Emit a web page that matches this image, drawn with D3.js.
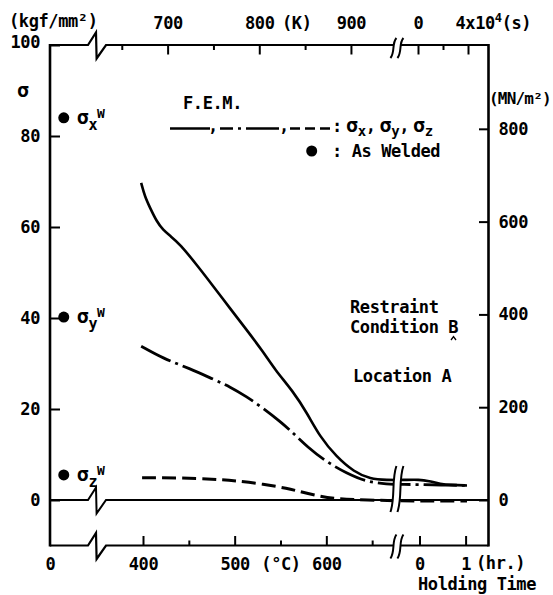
<!DOCTYPE html>
<html>
<head>
<meta charset="utf-8">
<script src="https://cdn.jsdelivr.net/npm/d3@7"></script>
<style>
  body { margin: 0; background: #fff; }
  text { font-family: "DejaVu Sans Mono", monospace; font-weight: bold; font-size: 17px; letter-spacing: -0.4px; fill: #000; }
</style>
</head>
<body>
<svg id="chart" width="553" height="595"></svg>
<script>
// ---- Stress during post-weld heat treatment (kgf/mm^2) ----
// heating stage: temperature (°C) ; holding stage: time (hr)
const sxHeatC = [398, 402, 408, 415, 422, 430, 440, 459, 477, 495, 513, 531, 544, 564, 579, 593, 611, 630, 648, 666, 684];
const sxHeat  = [69.7, 66.7, 64.1, 61.2, 59.3, 58.0, 56.3, 51.6, 46.9, 42.1, 37.4, 32.6, 28.6, 23.8, 19.1, 13.9, 9.5, 6.2, 4.6, 4.4, 4.4];
const sxHoldH = [0, 0.2, 0.45, 0.7, 1.03];
const sxHold  = [4.5, 4.2, 3.5, 3.3, 3.2];

const syHeatC = [398, 422, 451, 477, 495, 513, 531, 550, 564, 579, 600, 622, 644, 666, 684];
const syHeat  = [33.8, 31.1, 28.9, 26.5, 24.9, 22.7, 20.2, 17.2, 14.7, 11.7, 8.4, 5.9, 4.0, 3.5, 3.4];
const syHoldH = [0, 0.45, 1.03];
const syHold  = [3.4, 3.3, 3.2];

const szHeatC = [399, 440, 477, 502, 531, 559, 568, 590, 611, 644, 684];
const szHeat  = [4.9, 4.9, 4.6, 4.2, 3.5, 2.5, 2.0, 0.9, 0.2, 0.0, -0.2];
const szHoldH = [0, 0.5, 1.03];
const szHold  = [-0.2, -0.2, -0.2];

// as-welded residual stresses (kgf/mm^2), at room temperature
const weldComponents = ["x", "y", "z"];
const weldValues = [84.0, 40.2, 5.5];
const roomTempC = 15;

// axis ticks
const stressTicks = [0, 20, 40, 60, 80, 100];
const mnTicks = [0, 200, 400, 600, 800];
const celsiusTicks = [400, 450, 500, 550, 600, 650];
const celsiusLabels = {400: "400", 500: "500", 550: "(°C)", 600: "600"};
const kelvinTicks = [650, 700, 750, 800, 850, 900];
const kelvinLabels = {700: "700", 800: "800", 900: "900"};
const hourTicks = [0, 1];
const secondTicks = [0, 2e4, 4e4];

const KGF_TO_MN = 9.80665;

// ---- layout ----
const svg = d3.select("#chart");
const X0 = 50, X1 = 488.5, Y0 = 45, Y1 = 545.5;

const y = d3.scaleLinear([-10, 100], [Y1, Y0]);
const yMN = d3.scaleLinear([-10 * KGF_TO_MN, 100 * KGF_TO_MN], [Y1, Y0]);
const preScale = d3.scaleLinear([0, 40], [X0, 86.7]);
const tempScale = d3.scaleLinear([400, 700], [143, 418]);
const kScale = d3.scaleLinear([673.15, 973.15], [143, 418]);
const hourScale = d3.scaleLinear([0, 1], [419.5, 465.6]);
const secScale = d3.scaleLinear([0, 4e4], [418, 468]);

function series(heatC, heatV, holdH, holdV) {
  const pts = heatC.map((t, i) => [tempScale(t), y(heatV[i])]);
  holdH.forEach((h, i) => pts.push([hourScale(h), y(holdV[i])]));
  return pts;
}
const line = d3.line().curve(d3.curveBasis);

const curves = svg.append("g").attr("fill", "none").attr("stroke", "#000").attr("stroke-width", 2.6);
curves.append("path").attr("d", line(series(sxHeatC, sxHeat, sxHoldH, sxHold)));
curves.append("path").attr("d", line(series(syHeatC, syHeat, syHoldH, syHold)))
  .attr("stroke-dasharray", "33,5,3,5").attr("stroke-width", 2.8);
curves.append("path").attr("d", line(series(szHeatC, szHeat, szHoldH, szHold)))
  .attr("stroke-dasharray", "14,6").attr("stroke-width", 3);

// frame with zigzag breaks on the horizontal rules
function brokenRule(yy) {
  return `M${X0},${yy}H88L96,${yy - 12.5}L96.6,${yy + 13.5}L106,${yy}H${X1}`;
}
const frame = svg.append("g").attr("fill", "none").attr("stroke", "#000").attr("stroke-width", 2.2);
frame.append("path").attr("d", brokenRule(Y0));
frame.append("path").attr("d", brokenRule(Y1));
frame.append("path").attr("d", brokenRule(y(0))).attr("stroke-width", 2);
frame.append("line").attr("x1", X0).attr("x2", X0).attr("y1", Y0 - 1).attr("y2", Y1 + 1).attr("stroke-width", 2.6);
frame.append("line").attr("x1", X1).attr("x2", X1).attr("y1", Y0 - 1).attr("y2", Y1 + 1).attr("stroke-width", 2.6);

// axes
function styleAxis(g) {
  g.select(".domain").remove();
  g.selectAll(".tick line").attr("stroke-width", 2);
  g.attr("font-size", null).attr("font-family", null);
}
const leftAxis = svg.append("g").attr("transform", `translate(${X0},0)`)
  .call(d3.axisLeft(y).tickValues(stressTicks).tickSize(-10).tickPadding(10).tickFormat(d3.format("d")));
styleAxis(leftAxis);
leftAxis.selectAll(".tick").filter(d => d === 100).select("text").attr("y", -3);

const rightAxis = svg.append("g").attr("transform", `translate(${X1},0)`)
  .call(d3.axisRight(yMN).tickValues(mnTicks).tickSize(-9.5).tickPadding(10).tickFormat(d3.format("d")));
styleAxis(rightAxis);

const bottomC = svg.append("g").attr("transform", `translate(0,${Y1})`)
  .call(d3.axisBottom(tempScale).tickValues(celsiusTicks).tickSize(-9.5).tickPadding(12.4)
    .tickFormat(d => celsiusLabels[d] || ""));
styleAxis(bottomC);
bottomC.selectAll(".tick").filter(d => d % 100 !== 0).select("line").attr("y2", -5);

const bottomPre = svg.append("g").attr("transform", `translate(0,${Y1})`)
  .call(d3.axisBottom(preScale).tickValues([0]).tickSize(0).tickPadding(12.4));
styleAxis(bottomPre);

const bottomH = svg.append("g").attr("transform", `translate(0,${Y1})`)
  .call(d3.axisBottom(hourScale).tickValues(hourTicks).tickSize(-9.5).tickPadding(12.4).tickFormat(d3.format("d")));
styleAxis(bottomH);

const topK = svg.append("g").attr("transform", `translate(0,${Y0})`)
  .call(d3.axisTop(kScale).tickValues(kelvinTicks).tickSize(-9.5).tickPadding(16)
    .tickFormat(d => kelvinLabels[d] || ""));
styleAxis(topK);
topK.selectAll(".tick").filter(d => d % 100 !== 0).select("line").attr("y2", 5);

const topS = svg.append("g").attr("transform", `translate(0,${Y0})`)
  .call(d3.axisTop(secScale).tickValues(secondTicks).tickSize(-9.5).tickPadding(16)
    .tickFormat(d => d === 0 ? "0" : ""));
styleAxis(topS);
topS.selectAll(".tick").filter(d => d === 2e4).select("line").attr("y2", 5);
const sLab = topS.selectAll(".tick").filter(d => d === 4e4).select("text")
  .attr("text-anchor", "start").attr("x", -13);
sLab.append("tspan").text("4x10");
sLab.append("tspan").text("4").attr("font-size", "12px").attr("dy", -7);
sLab.append("tspan").text("(s)").attr("dy", 7);

// axis break marks ("((")
const breakX = tempScale(677);
function breakMark(y0, y1) {
  const h = y1 - y0, xl = breakX - 3.5, xr = breakX + 3.5;
  const s = x => `M${x + 3},${y0} C${x - 2},${y0 + h * 0.3} ${x + 2},${y0 + h * 0.7} ${x - 3},${y1}`;
  const g = svg.append("g");
  g.append("path")
    .attr("d", `${s(xl)} L${xr - 3},${y1} C${xr + 2},${y0 + h * 0.7} ${xr - 2},${y0 + h * 0.3} ${xr + 3},${y0} Z`)
    .attr("fill", "#fff").attr("stroke", "none");
  g.append("path").attr("d", s(xl)).attr("fill", "none").attr("stroke", "#000").attr("stroke-width", 2);
  g.append("path").attr("d", s(xr)).attr("fill", "none").attr("stroke", "#000").attr("stroke-width", 2);
}
breakMark(Y0 - 7, Y0 + 13);
breakMark(466, 512);
breakMark(Y1 - 11, Y1 + 13);

// unit labels
svg.append("text").attr("x", 9).attr("y", 27).text("(kgf/mm²)");
svg.append("text").attr("x", 282).attr("y", 29).text("(K)");
svg.append("text").attr("x", 489).attr("y", 104)
  .style("font-size", "16px").style("letter-spacing", "-0.8px").text("(MN/m²)");
svg.append("text").attr("x", 476).attr("y", 569).text("(hr.)");
svg.append("text").attr("x", 536).attr("y", 590).attr("text-anchor", "end").text("Holding Time");
svg.append("text").attr("x", 17).attr("y", 97).style("font-size", "20px").text("σ");

// as-welded points
weldComponents.forEach((c, i) => {
  const cx = preScale(roomTempC), cy = y(weldValues[i]);
  svg.append("circle").attr("cx", cx).attr("cy", cy).attr("r", 5.5).attr("fill", "#000");
  const t = svg.append("text").attr("x", cx + 13).attr("y", cy + 6);
  t.append("tspan").text("σ").style("font-size", "20px");
  t.append("tspan").text(c).style("font-size", "15px").attr("dy", 6);
  t.append("tspan").text("W").style("font-size", "13px").attr("dy", -12);
});

// legend
svg.append("text").attr("x", 183).attr("y", 109).text("F.E.M.");
const leg = svg.append("g").attr("fill", "none").attr("stroke", "#000").attr("stroke-width", 2.6);
leg.append("line").attr("x1", 170).attr("x2", 210).attr("y1", 128.5).attr("y2", 128.5);
leg.append("line").attr("x1", 220).attr("x2", 280).attr("y1", 128.5).attr("y2", 128.5)
  .attr("stroke-dasharray", "33,5,3,5").attr("stroke-dashoffset", 20);
leg.append("line").attr("x1", 290).attr("x2", 330).attr("y1", 128.5).attr("y2", 128.5)
  .attr("stroke-dasharray", "10,5");
svg.append("text").attr("x", 213).attr("y", 132).attr("text-anchor", "middle").text(",");
svg.append("text").attr("x", 284).attr("y", 132).attr("text-anchor", "middle").text(",");
svg.append("text").attr("x", 337).attr("y", 132).attr("text-anchor", "middle").text(":");
weldComponents.forEach((c, i) => {
  const t = svg.append("text").attr("x", 346 + i * 33.5).attr("y", 132);
  t.append("tspan").text("σ").style("font-size", "20px");
  t.append("tspan").text(c).style("font-size", "14px").attr("dy", 4);
  if (i < 2) t.append("tspan").text(",").attr("dy", -4);
});
svg.append("circle").attr("cx", 311.7).attr("cy", 151).attr("r", 5.5).attr("fill", "#000");
svg.append("text").attr("x", 332).attr("y", 157).text(": As Welded");

// annotations
svg.append("text").attr("x", 350).attr("y", 313).text("Restraint");
svg.append("text").attr("x", 350).attr("y", 333).text("Condition B");
svg.append("path").attr("d", "M451,340 L453.5,336.5 L456,340").attr("fill", "none").attr("stroke", "#000").attr("stroke-width", 1.3);
svg.append("text").attr("x", 353).attr("y", 382).text("Location A");
</script>
</body>
</html>
